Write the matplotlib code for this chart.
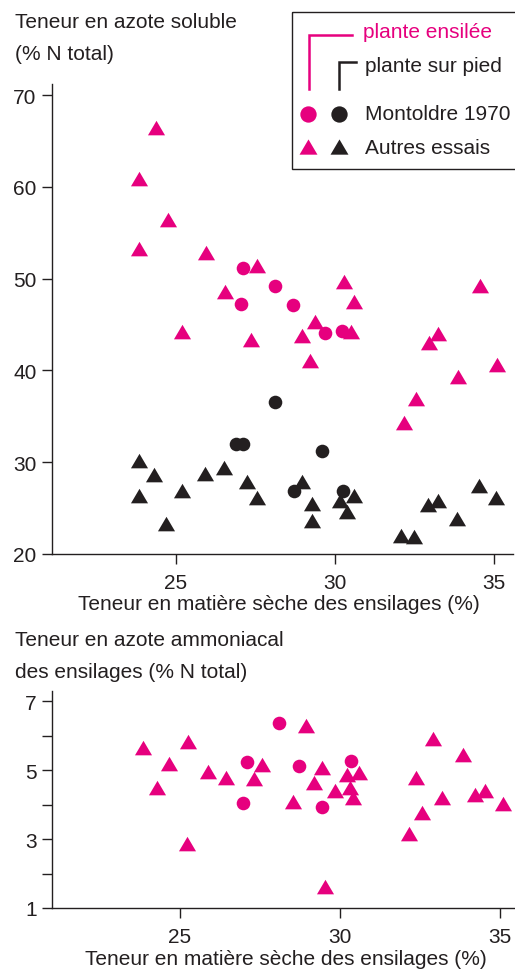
import matplotlib
matplotlib.use("Agg")
import matplotlib.pyplot as plt
import numpy as np
from matplotlib.path import Path
from matplotlib.patches import Rectangle

plt.rcParams['font.family'] = ['Liberation Sans', 'DejaVu Sans']

PINK = '#E6007E'
BLACK = '#231F20'
TXT = '#231F20'

# ---------------- Data: soluble nitrogen (top panel) ----------------
sol_ens_mont_x = [27.10, 27.04, 28.10, 28.68, 29.69, 30.22]
sol_ens_mont_y = [51.2, 47.2, 49.2, 47.1, 44.1, 44.3]

sol_pied_mont_x = [28.10, 26.90, 27.10, 29.60, 28.70, 30.25]
sol_pied_mont_y = [36.6, 32.0, 32.0, 31.2, 26.9, 26.9]

sol_ens_autres_x = [24.37, 23.84, 23.84, 24.75, 25.94, 25.20, 26.55, 27.55, 27.36, 29.37, 28.96,
                    29.21, 30.28, 30.60, 30.50, 32.96, 33.24, 34.56, 35.09, 33.87, 32.55, 32.17]
sol_ens_autres_y = [66.4, 60.8, 53.2, 56.4, 52.8, 44.2, 48.5, 51.4, 43.3, 45.3, 43.7,
                    41.0, 49.6, 47.5, 44.2, 43.0, 44.0, 49.2, 40.6, 39.3, 36.9, 34.3]

sol_pied_autres_x = [23.84, 23.84, 24.30, 24.70, 25.20, 25.90, 26.50, 27.23, 27.55, 28.96, 29.28,
                     29.28, 30.16, 30.60, 30.38, 32.08, 32.50, 32.92, 33.24, 33.84, 34.53, 35.06]
sol_pied_autres_y = [30.1, 26.3, 28.6, 23.3, 26.9, 28.7, 29.4, 27.8, 26.1, 27.8, 25.4,
                     23.6, 25.8, 26.3, 24.6, 22.0, 21.8, 25.3, 25.8, 23.8, 27.4, 26.1]

# ---------------- Data: ammonia nitrogen (bottom panel) ----------------
amm_mont_x = [28.10, 27.08, 28.73, 26.98, 29.43, 30.33]
amm_mont_y = [6.36, 5.25, 5.11, 4.06, 3.92, 5.28]

amm_autres_x = [23.83, 24.29, 24.67, 25.26, 25.23, 25.88, 26.43, 27.31, 27.57, 28.54, 28.93,
                29.19, 29.45, 29.52, 29.85, 30.22, 30.30, 30.40, 30.59, 32.16, 32.39, 32.56,
                32.90, 33.18, 33.84, 34.22, 34.53, 35.08]
amm_autres_y = [5.64, 4.48, 5.18, 5.82, 2.87, 4.94, 4.77, 4.75, 5.16, 4.07, 6.27,
                4.64, 5.06, 1.61, 4.40, 4.86, 4.48, 4.18, 4.93, 3.14, 4.77, 3.75,
                5.91, 4.18, 5.45, 4.28, 4.41, 4.02]

top_yticks = [20, 30, 40, 50, 60, 70]
bot_yticks = [1, 3, 5, 7]
bot_yminor = [2, 4, 6]
xticks = [25, 30, 35]

xlabel = "Teneur en matière sèche des ensilages (%)"

# equilateral-ish triangle marker
TRI = Path([(-1, -0.8), (1, -0.8), (0, 0.9), (-1, -0.8)],
           [Path.MOVETO, Path.LINETO, Path.LINETO, Path.CLOSEPOLY])

W, H = 515, 970
fig = plt.figure(figsize=(W / 100, H / 100), dpi=100)

def px_ax(l, r, b, t):
    return fig.add_axes([l / W, 1 - b / H, (r - l) / W, (b - t) / H])

def style(ax):
    for s in ['top', 'right']:
        ax.spines[s].set_visible(False)
    for s in ['left', 'bottom']:
        ax.spines[s].set_color(BLACK)
        ax.spines[s].set_linewidth(1.0)
    ax.tick_params(axis='both', colors=BLACK, labelcolor=TXT, labelsize=15, width=1.0)
    ax.tick_params(axis='y', length=7.5, pad=3.5)
    ax.tick_params(axis='x', length=7, pad=6.5)
    ax.set_facecolor('none')

MS_C = 9.8
MS_T = 12.3

# ---- top panel ----
ax1 = px_ax(52, 513, 555, 85)
ax1.set_xlim(21.1, 35.6)
ax1.set_ylim(20, 71.2)
style(ax1)
ax1.set_xticks(xticks)
ax1.set_yticks(top_yticks)
ax1.plot(sol_pied_autres_x, sol_pied_autres_y, ls='none', marker=TRI, ms=MS_T, color=BLACK, mec='none')
ax1.plot(sol_pied_mont_x, sol_pied_mont_y, ls='none', marker='o', ms=MS_C, color=BLACK, mec='none')
ax1.plot(sol_ens_autres_x, sol_ens_autres_y, ls='none', marker=TRI, ms=MS_T, color=PINK, mec='none')
ax1.plot(sol_ens_mont_x, sol_ens_mont_y, ls='none', marker='o', ms=MS_C, color=PINK, mec='none')

# ---- bottom panel ----
ax2 = px_ax(52, 515, 909, 692)
ax2.set_xlim(21.0, 35.47)
ax2.set_ylim(1, 7.3)
style(ax2)
ax2.set_xticks(xticks)
ax2.set_yticks(bot_yticks)
ax2.set_yticks(bot_yminor, minor=True)
ax2.tick_params(axis='y', which='minor', length=7.5, width=1.0, color=BLACK)
ax2.plot(amm_autres_x, amm_autres_y, ls='none', marker=TRI, ms=MS_T, color=PINK, mec='none')
ax2.plot(amm_mont_x, amm_mont_y, ls='none', marker='o', ms=MS_C, color=PINK, mec='none')

# ---- overlay for texts and legend (pixel coordinates) ----
ov = fig.add_axes([0, 0, 1, 1], zorder=10)
ov.set_xlim(0, W)
ov.set_ylim(H, 0)
ov.axis('off')
ov.patch.set_alpha(0)

FS = 15
ov.text(15, 23, "Teneur en azote soluble", fontsize=FS, color=TXT, ha='left', va='center')
ov.text(15, 55, "(% N total)", fontsize=FS, color=TXT, ha='left', va='center')
ov.text(279, 605, xlabel, fontsize=FS, color=TXT, ha='center', va='center')
ov.text(15, 641, "Teneur en azote ammoniacal", fontsize=FS, color=TXT, ha='left', va='center')
ov.text(15, 673, "des ensilages (% N total)", fontsize=FS, color=TXT, ha='left', va='center')
ov.text(286, 960, xlabel, fontsize=FS, color=TXT, ha='center', va='center')

# legend
ov.add_patch(Rectangle((292, 13), 240, 157, fill=False, ec=BLACK, lw=1.0))
ov.plot([309, 309, 352], [90, 36, 36], color=PINK, lw=1.8, solid_joinstyle='miter')
ov.plot([339, 339, 356], [90, 63, 63], color=BLACK, lw=1.8, solid_joinstyle='miter')
ov.text(363, 33, "plante ensilée", fontsize=FS, color=PINK, ha='left', va='center')
ov.text(365, 67, "plante sur pied", fontsize=FS, color=TXT, ha='left', va='center')
ov.plot([308], [115], ls='none', marker='o', ms=MS_C * 1.2, color=PINK, mec='none')
ov.plot([339], [115], ls='none', marker='o', ms=MS_C * 1.2, color=BLACK, mec='none')
ov.text(365, 115, "Montoldre 1970", fontsize=FS, color=TXT, ha='left', va='center')
ov.plot([308], [148], ls='none', marker=TRI, ms=MS_T * 1.05, color=PINK, mec='none')
ov.plot([339], [148], ls='none', marker=TRI, ms=MS_T * 1.05, color=BLACK, mec='none')
ov.text(365, 148, "Autres essais", fontsize=FS, color=TXT, ha='left', va='center')

fig.savefig("out.png", dpi=100)
